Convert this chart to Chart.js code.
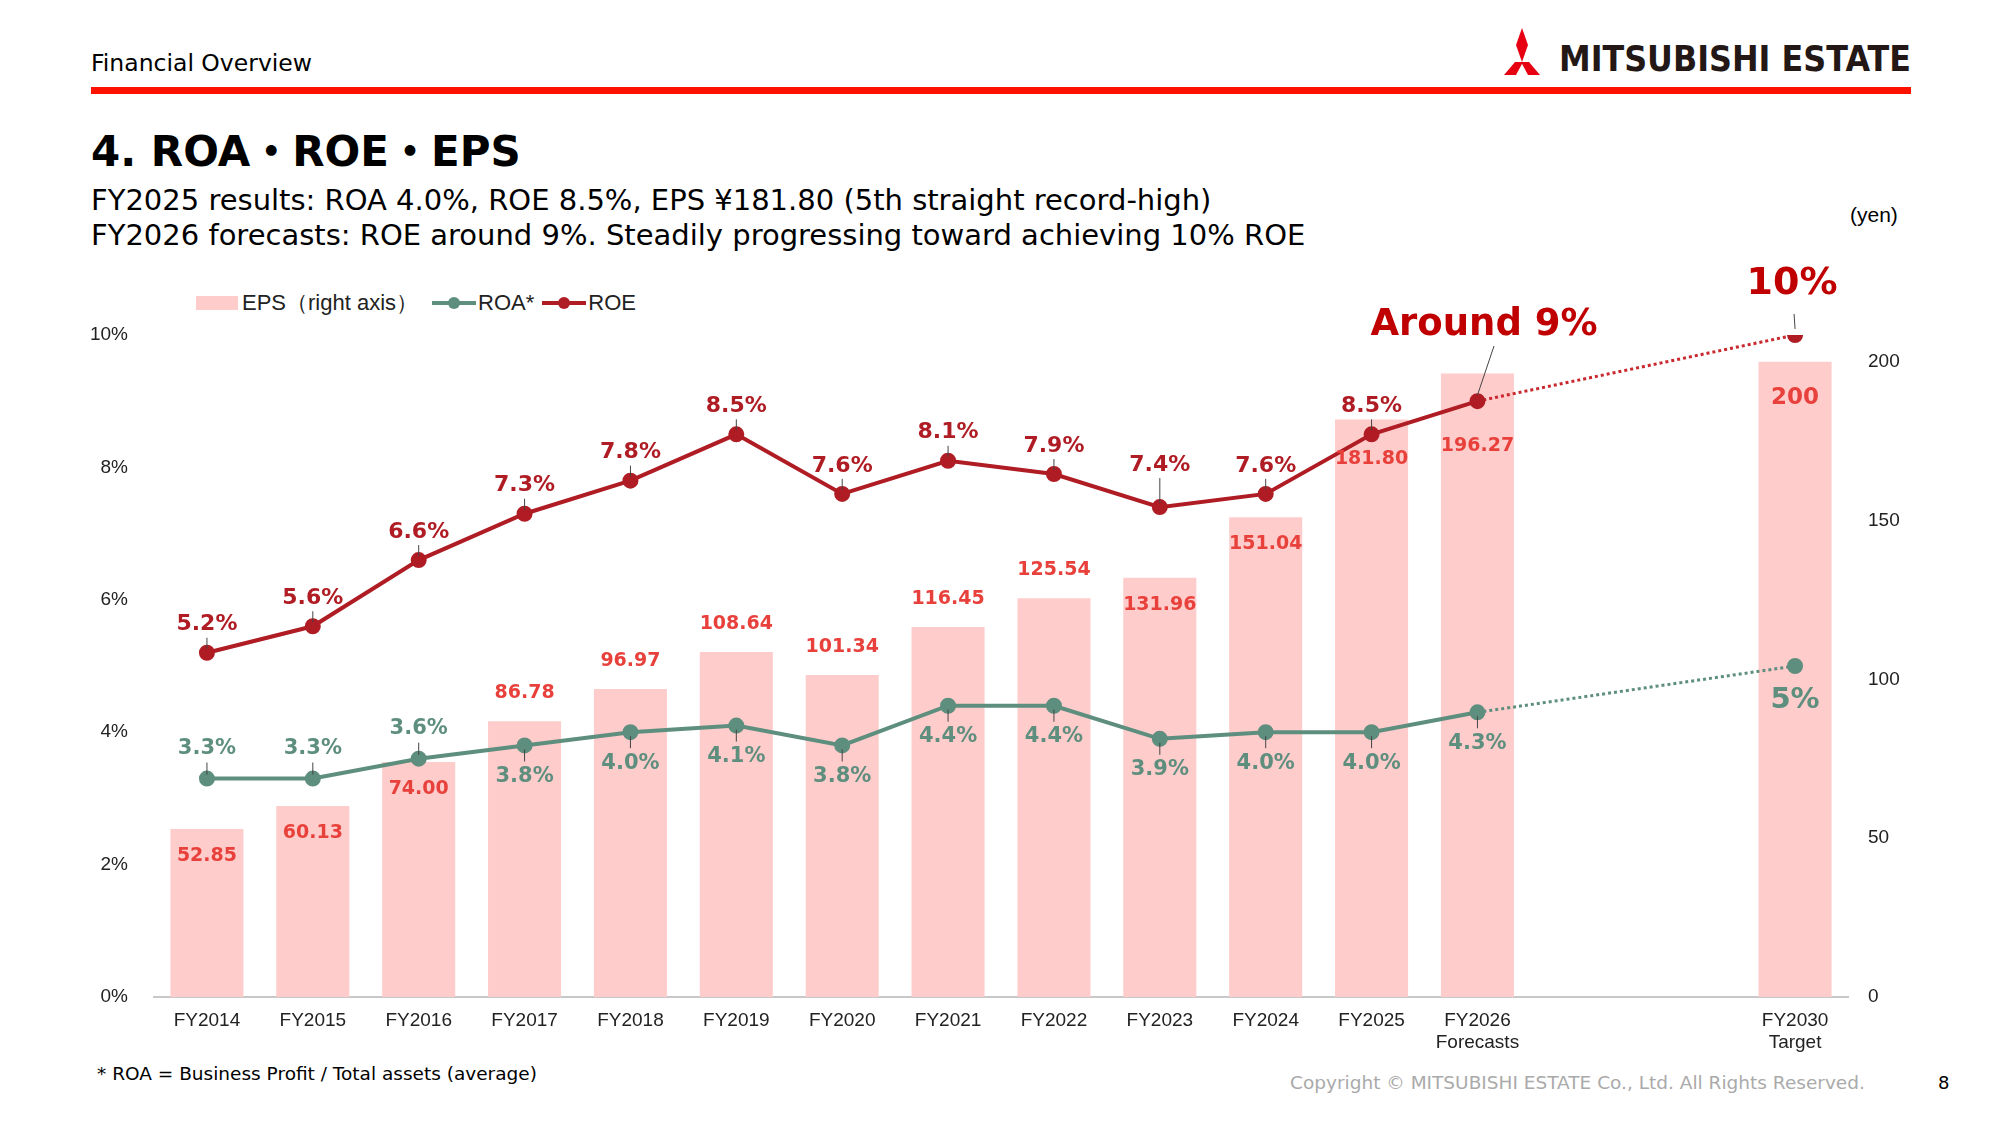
<!DOCTYPE html>
<html><head><meta charset="utf-8">
<script src="https://cdn.jsdelivr.net/npm/chart.js@4"></script>
<style>
body{margin:0;width:2000px;height:1125px;background:#fff;position:relative;overflow:hidden;font-family:"DejaVu Sans",sans-serif;color:#000}
.a{position:absolute;white-space:nowrap}
#c{position:absolute;left:0;top:0}
</style></head><body>
<div class="a" style="left:91px;top:49px;font-size:23.5px">Financial Overview</div>
<svg class="a" style="left:1492px;top:26px" width="420" height="50">
<polygon points="30,2 36,19 30,36 24,19" fill="#e60012"/>
<polygon points="23,36 31,36 24,49 12,49 " fill="#e60012"/>
<polygon points="37,36 29,36 36,49 48,49" fill="#e60012"/>
<text x="67" y="45" font-family="DejaVu Sans" font-weight="bold" font-size="36" fill="#231815" textLength="352" lengthAdjust="spacingAndGlyphs">MITSUBISHI ESTATE</text>
</svg>
<div class="a" style="left:91px;top:87px;width:1820px;height:7px;background:#ff1100"></div>
<div class="a" style="left:91px;top:127px;font-size:42px;font-weight:bold;line-height:1">4. ROA<span style="font-family:'Noto Sans CJK JP';line-height:1">・</span>ROE<span style="font-family:'Noto Sans CJK JP';line-height:1">・</span>EPS</div>
<div class="a" style="left:91px;top:183px;font-size:29px">FY2025 results: ROA 4.0%, ROE 8.5%, EPS ¥181.80 (5th straight record-high)</div>
<div class="a" style="left:91px;top:218px;font-size:29px">FY2026 forecasts: ROE around 9%. Steadily progressing toward achieving 10% ROE</div>
<div class="a" style="left:1850px;top:203px;font-size:21px;font-family:'Liberation Sans',sans-serif">(yen)</div>
<div class="a" style="left:196px;top:288px;font-size:22px;font-family:'Liberation Sans',sans-serif;display:flex;align-items:center;color:#222">
<span style="display:inline-block;width:42px;height:14px;background:#ffcccc;margin-right:4px"></span>EPS（right axis）
<svg width="48" height="20" style="margin-left:12px"><line x1="2" y1="10" x2="46" y2="10" stroke="#5e8e7e" stroke-width="4"/><circle cx="24" cy="10" r="6" fill="#5e8e7e"/></svg>ROA*
<svg width="48" height="20" style="margin-left:6px"><line x1="2" y1="10" x2="46" y2="10" stroke="#b01c24" stroke-width="4"/><circle cx="24" cy="10" r="6" fill="#b01c24"/></svg>ROE
</div>
<div class="a" style="left:97px;top:1063px;font-size:18.5px">* ROA = Business Profit / Total assets (average)</div>
<div class="a" style="left:1290px;top:1072px;font-size:18.5px;color:#aaa">Copyright © MITSUBISHI ESTATE Co., Ltd. All Rights Reserved.</div>
<div class="a" style="left:1938px;top:1072px;font-size:18px">8</div>
<canvas id="c" width="2000" height="1125"></canvas>
<script>
const categories=[["FY2014"],["FY2015"],["FY2016"],["FY2017"],["FY2018"],["FY2019"],["FY2020"],["FY2021"],["FY2022"],["FY2023"],["FY2024"],["FY2025"],["FY2026","Forecasts"],[""],[""],["FY2030","Target"]];
const eps=[52.85,60.13,74.00,86.78,96.97,108.64,101.34,116.45,125.54,131.96,151.04,181.80,196.27,null,null,200];
const roa=[3.3,3.3,3.6,3.8,4.0,4.1,3.8,4.4,4.4,3.9,4.0,4.0,4.3,null,null,5.0];
const roe=[5.2,5.6,6.6,7.3,7.8,8.5,7.6,8.1,7.9,7.4,7.6,8.5,9.0,null,null,10.0];
const leftTicks=[0,2,4,6,8,10];
const rightTicks=[0,50,100,150,200];
// label placement: a=above, b=below
const roaPos=['a','a','a','b','b','b','b','b','b','b','b','b','b','','','b'];
const epsPos=['b','b','b','a','a','a','a','a','a','b','b','b','b','','','b'];

const RED='#b01c24',GRN='#5e8e7e';
const tail=arr=>arr.map((v,i)=>(i===12||i===15)?v:null);
const labelPlugin={id:'lbl',afterDatasetsDraw(ch){
 const c=ch.ctx;c.save();c.textAlign='center';c.textBaseline='middle';
 const mb=ch.getDatasetMeta(0),ma=ch.getDatasetMeta(1),me=ch.getDatasetMeta(2);
 c.font='bold 19px "DejaVu Sans"';c.fillStyle='#e8413c';
 eps.forEach((v,i)=>{if(v==null)return;const b=mb.data[i];let y;
  if(epsPos[i]==='a')y=b.y-28;else y=b.y+(i===12?73:i===11?40:i===15?36:27);
  if(i===15){c.font='bold 23px "DejaVu Sans"';}
  c.fillText(i===15?'200':v.toFixed(2),b.x,y);});
 c.fillStyle=GRN;c.strokeStyle='#444';c.lineWidth=1;
 roa.forEach((v,i)=>{if(v==null)return;const p=ma.data[i];
  if(i===15){c.font='bold 29px "DejaVu Sans"';c.fillText('5%',p.x,p.y+34);return;}
  c.font='bold 21px "DejaVu Sans"';
  const up=roaPos[i]==='a';const y=up?p.y-30:p.y+31;
  c.fillText(v.toFixed(1)+'%',p.x,y);
  c.beginPath();c.moveTo(p.x,up?p.y-16:p.y+4);c.lineTo(p.x,up?p.y-4:p.y+16);c.stroke();});
 c.fillStyle=RED;
 roe.forEach((v,i)=>{if(v==null)return;const p=me.data[i];
  if(i===12){c.font='bold 37px "DejaVu Sans"';c.fillStyle='#c00000';c.fillText('Around 9%',1484,325);
   c.beginPath();c.moveTo(1494,346);c.lineTo(p.x,p.y-6);c.stroke();c.fillStyle=RED;return;}
  if(i===15){c.font='bold 38px "DejaVu Sans"';c.fillStyle='#c00000';c.fillText('10%',p.x-3,284);
   c.beginPath();c.moveTo(p.x-1,314);c.lineTo(p.x,p.y-6);c.stroke();c.fillStyle=RED;return;}
  c.font='bold 22px "DejaVu Sans"';
  const off=i===9?42:28;
  c.fillText(v.toFixed(1)+'%',p.x,p.y-off);
  c.beginPath();c.moveTo(p.x,p.y-off+13);c.lineTo(p.x,p.y-4);c.stroke();});
 c.restore();}};

new Chart(document.getElementById('c'),{
 data:{labels:categories,datasets:[
  {type:'bar',data:eps,yAxisID:'y2',backgroundColor:'#ffcccc',barPercentage:0.69,categoryPercentage:1,order:5},
  {type:'line',data:roa,yAxisID:'y',borderColor:GRN,backgroundColor:GRN,borderWidth:4,pointRadius:6,pointHoverRadius:6,spanGaps:false,order:2},
  {type:'line',data:roe,yAxisID:'y',borderColor:RED,backgroundColor:RED,borderWidth:4,pointRadius:6,pointHoverRadius:6,spanGaps:false,order:1},
  {type:'line',data:tail(roa),yAxisID:'y',borderColor:GRN,borderWidth:3,borderDash:[3,3],pointRadius:0,spanGaps:true,order:4},
  {type:'line',data:tail(roe),yAxisID:'y',borderColor:'#c8282e',borderWidth:3,borderDash:[3,3],pointRadius:0,spanGaps:true,order:3}]},
 options:{responsive:false,animation:false,events:[],
  layout:{padding:{top:335,bottom:0,left:0,right:0}},
  plugins:{legend:{display:false},tooltip:{enabled:false}},
  scales:{
   x:{grid:{display:false},border:{color:'#c8c8c8',width:2},
      ticks:{color:'#222',font:{family:'Liberation Sans',size:19},padding:4,maxRotation:0,autoSkip:false},
      afterFit:s=>{s.height=128;}},
   y:{position:'left',min:0,max:10,grid:{display:false},border:{display:false},
      afterBuildTicks:s=>{s.ticks=leftTicks.map(v=>({value:v}));},
      ticks:{color:'#222',font:{family:'Liberation Sans',size:19},padding:18,callback:v=>v+'%'},
      afterFit:s=>{s.width=154;}},
   y2:{position:'right',min:0,max:208.4,grid:{display:false},border:{display:false},
      afterBuildTicks:s=>{s.ticks=rightTicks.map(v=>({value:v}));},
      ticks:{color:'#222',font:{family:'Liberation Sans',size:19},padding:12},
      afterFit:s=>{s.width=152;}}}},
 plugins:[labelPlugin]});
</script></body></html>
